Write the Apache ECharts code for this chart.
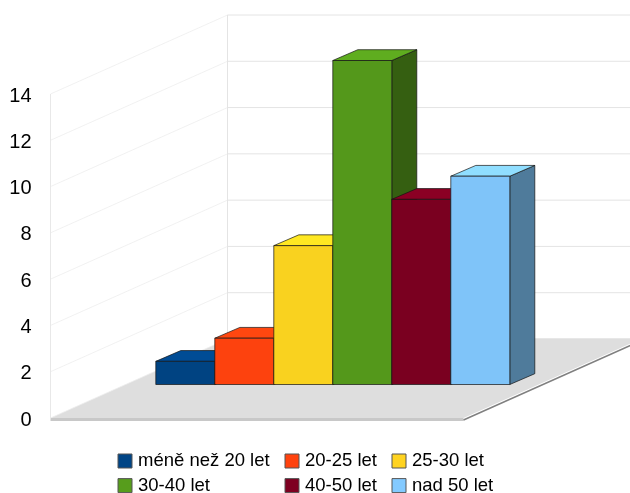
<!DOCTYPE html>
<html>
<head>
<meta charset="utf-8">
<style>html,body{margin:0;padding:0;background:#fff}#chart{width:630px;height:493px}</style>
<script src="https://cdn.jsdelivr.net/npm/echarts@6/dist/echarts.min.js"></script>
</head>
<body>
<div id="chart"></div>
<script>
// Respondents by age group
const categories = ['méně než 20 let', '20-25 let', '25-30 let', '30-40 let', '40-50 let', 'nad 50 let'];
const values = [1, 2, 6, 14, 8, 9];
const yTicks = [0, 2, 4, 6, 8, 10, 12, 14];
const frontColors = ['#004382', '#fd420e', '#f9d21f', '#54981b', '#7a0020', '#7fc4f9'];
const legendColors = ['#004586', '#ff420e', '#ffd320', '#579d1c', '#7e0021', '#83caff'];
const topColors = ['#004c95', '#ff4710', '#ffe822', '#5fad1f', '#8b0024', '#90deff'];
const sideColors = ['#002a52', '#9c2809', '#988113', '#355f11', '#4d0014', '#4f7b9b'];

// Oblique projection offsets in pixels: room depth, bar row position, bar depth
const ROOM = [177, -79];
const ROW = [75.8, -33.5];
const BAR = [25, -10.8];
const EDGE = 'rgba(20,20,20,0.7)';
const GRID_LINE = '#e4e4e4';
const SLOTS = categories.length + 1;

const shift = (p, d) => [p[0] + d[0], p[1] + d[1]];
const poly = (points, fill, stroke, lineWidth) => ({
  type: 'polygon',
  shape: { points },
  style: { fill, stroke: stroke || null, lineWidth: lineWidth || 0 }
});
const line = (a, b, stroke, lineWidth) => ({
  type: 'polyline',
  shape: { points: [a, b] },
  style: { fill: null, stroke, lineWidth: lineWidth || 1 }
});

function renderFloor(params, api) {
  const a = api.coord([0, 0]);
  const b = api.coord([SLOTS, 0]);
  const c = shift(b, ROOM);
  const d = shift(a, ROOM);
  return {
    type: 'group',
    children: [
      poly([a, b, c, d], '#dedede'),
      line([a[0], a[1] + 1.5], [b[0], b[1] + 1.5], '#c8c8c8', 3),
      line([b[0], b[1] + 2], [c[0], c[1] + 2], '#808080', 1.6),
      line(d, c, '#d4d4d4', 1)
    ]
  };
}

function renderWall(params, api) {
  const a = api.coord([0, api.value(1)]);
  const back = shift(a, ROOM);
  const right = [api.coord([SLOTS, 0])[0] + ROOM[0], back[1]];
  return {
    type: 'group',
    children: [line(a, back, '#eeeeee', 0.8), line(back, right, GRID_LINE, 1)]
  };
}

function renderWallEdges(params, api) {
  const a = api.coord([0, 0]);
  const b = api.coord([0, yTicks[yTicks.length - 1]]);
  return {
    type: 'group',
    children: [
      line(a, b, '#e8e8e8', 1),
      line(shift(a, ROOM), shift(b, ROOM), '#e4e4e4', 1)
    ]
  };
}

function barRenderer(index) {
  return function (params, api) {
    const left = api.value(0);
    const v = api.value(1);
    const bl = shift(api.coord([left, 0]), ROW);
    const br = shift(api.coord([left + 1, 0]), ROW);
    const tl = shift(api.coord([left, v]), ROW);
    const tr = shift(api.coord([left + 1, v]), ROW);
    return {
      type: 'group',
      children: [
        poly([br, tr, shift(tr, BAR), shift(br, BAR)], sideColors[index], EDGE, 1),
        poly([tl, tr, shift(tr, BAR), shift(tl, BAR)], topColors[index], EDGE, 1),
        poly([bl, br, tr, tl], frontColors[index], EDGE, 1)
      ]
    };
  };
}

const legendBase = {
  orient: 'vertical',
  top: 451.5,
  height: 60,
  itemWidth: 14,
  itemHeight: 14,
  itemGap: 5.6,
  icon: 'rect',
  selectedMode: false,
  itemStyle: { borderColor: '#555', borderWidth: 1 },
  textStyle: { fontFamily: 'Liberation Sans', fontSize: 18.5, color: '#000', padding: [0, 0, 0, 1] },
  padding: 0
};

const chart = echarts.init(document.getElementById('chart'), null, { renderer: 'canvas' });
chart.setOption({
  animation: false,
  backgroundColor: '#fff',
  grid: { left: 50.5, top: 94, width: 413, height: 324 },
  xAxis: { type: 'value', min: 0, max: SLOTS, show: false },
  yAxis: {
    type: 'value',
    min: 0,
    max: 14,
    interval: 2,
    axisLine: { show: false },
    axisTick: { show: false },
    splitLine: { show: false },
    axisLabel: {
      margin: 19,
      formatter: '{tick|{value}}',
      rich: {
        tick: { fontFamily: 'Liberation Sans', fontSize: 20, color: '#000', padding: [4, 0, 0, 0] }
      }
    }
  },
  legend: [
    Object.assign({}, legendBase, { left: 117.5, data: [categories[0], categories[3]] }),
    Object.assign({}, legendBase, { left: 284.5, data: [categories[1], categories[4]] }),
    Object.assign({}, legendBase, { left: 391.5, data: [categories[2], categories[5]] })
  ],
  series: [
    { type: 'custom', name: 'floor', silent: true, clip: false, z: 1, data: [[0, 0]], renderItem: renderFloor },
    { type: 'custom', name: 'wall', silent: true, clip: false, z: 2, data: yTicks.map((t, i) => [i, t]), renderItem: renderWall },
    { type: 'custom', name: 'wallEdges', silent: true, clip: false, z: 2, data: [[0, 0]], renderItem: renderWallEdges }
  ].concat(categories.map((name, i) => ({
    type: 'custom',
    name,
    clip: false,
    z: 3 + i,
    itemStyle: { color: legendColors[i] },
    data: [[i + 0.5, values[i]]],
    encode: { x: 0, y: 1 },
    renderItem: barRenderer(i)
  })))
});
</script>
</body>
</html>
